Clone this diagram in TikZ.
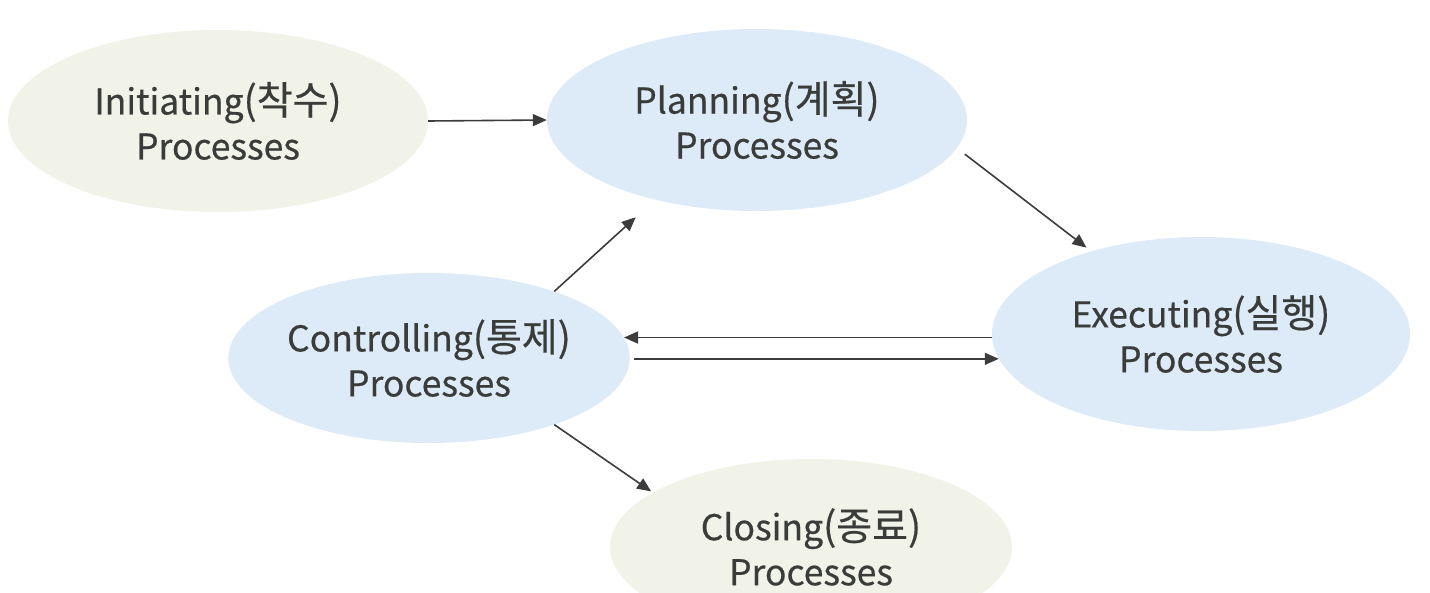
\documentclass[tikz,border=0pt]{standalone}
\usepackage{fontspec}
\setmainfont{Noto Sans CJK KR}[FakeBold=0.5]
\usetikzlibrary{shapes.geometric,arrows.meta}
\definecolor{bluefill}{RGB}{221,235,248}
\definecolor{greenfill}{RGB}{241,243,233}
\definecolor{txtcol}{RGB}{58,60,58}
\definecolor{arrcol}{RGB}{60,60,60}
\newcommand\kortext[1]{{\fontsize{39}{45}\selectfont #1}}
\begin{document}
\begin{tikzpicture}[x=1pt,y=-1pt,
  proc/.style={ellipse, draw=none, inner sep=0pt, align=center, text=txtcol,
    font=\fontsize{35.5}{45}\selectfont},
  bluep/.style={proc, fill=bluefill},
  greenp/.style={proc, fill=greenfill},
  arrow/.style={draw=arrcol, line width=1.6pt, -{Triangle[length=14pt,width=12pt]}}]
\useasboundingbox (0,0) rectangle (1430,592);
\clip (0,0) rectangle (1430,592);
\fill[white] (0,0) rectangle (1430,592);

\node[greenp, minimum width=420pt, minimum height=182pt] (ini) at (218,121) {Initiating\kortext{(착수)}\\Processes};
\node[bluep, minimum width=420pt, minimum height=182pt] (plan) at (757,120) {Planning\kortext{(계획)}\\Processes};
\node[bluep, minimum width=418pt, minimum height=194pt] (exec) at (1201,334) {Executing\kortext{(실행)}\\Processes};
\node[bluep, minimum width=398pt, minimum height=170pt] (ctrl) at (429,358) {Controlling\kortext{(통제)}\\Processes};
\node[greenp, minimum width=402pt, minimum height=176pt] (clos) at (811,547) {Closing\kortext{(종료)}\\Processes};

\draw[arrow] (ini.east) -- (plan.west);
\draw[arrow, shorten <=10pt, shorten >=6pt] (plan.-8) -- (exec.143);
\draw[arrow, shorten >=26pt] (ctrl.28) -- (plan.218);
\draw[arrow] (exec.west |- ctrl.6) -- (ctrl.6);
\draw[arrow, shorten <=4pt] (ctrl.east |- exec.187) -- (exec.187);
\draw[arrow, shorten >=2pt] (ctrl.-28) -- (clos.161);
\end{tikzpicture}
\end{document}
